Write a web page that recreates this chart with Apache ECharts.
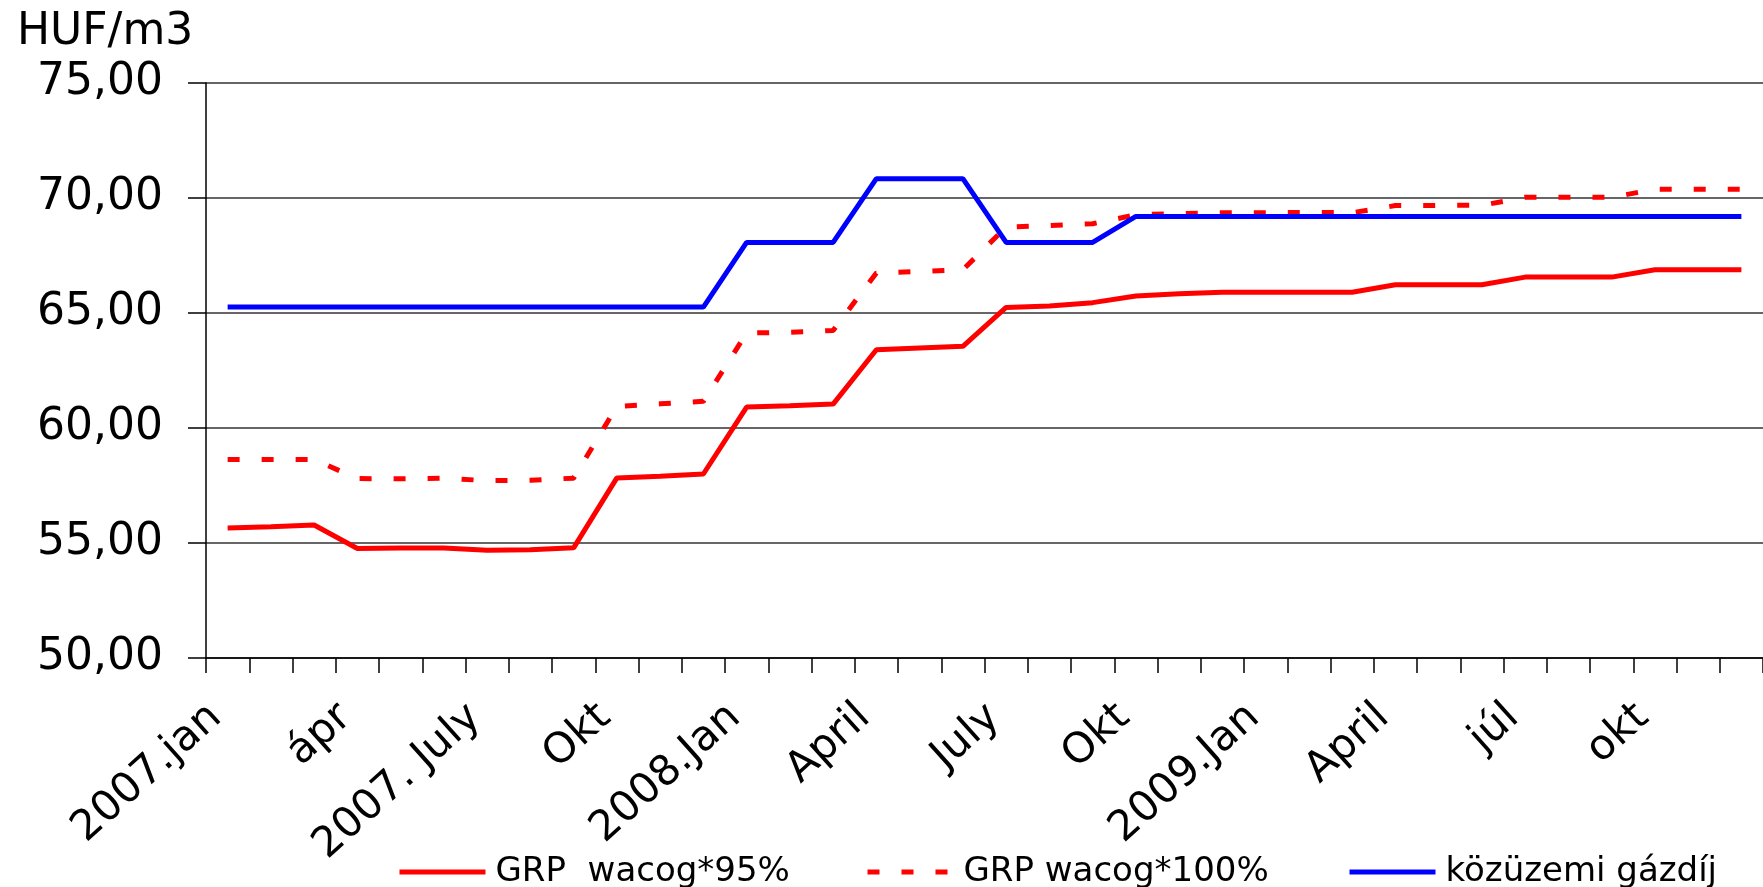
<!DOCTYPE html>
<html>
<head>
<meta charset="utf-8">
<script src="https://cdn.jsdelivr.net/npm/echarts@6/dist/echarts.min.js"></script>
<style>
html, body { margin: 0; padding: 0; background: #ffffff; }
#chart { width: 1763px; height: 887px; }
</style>
</head>
<body>
<div id="chart"></div>
<script>
// ---- data ----
const months = [
  '2007-01','2007-02','2007-03','2007-04','2007-05','2007-06','2007-07','2007-08','2007-09','2007-10','2007-11','2007-12',
  '2008-01','2008-02','2008-03','2008-04','2008-05','2008-06','2008-07','2008-08','2008-09','2008-10','2008-11','2008-12',
  '2009-01','2009-02','2009-03','2009-04','2009-05','2009-06','2009-07','2009-08','2009-09','2009-10','2009-11','2009-12'
];
const tickLabels = ['2007.jan','ápr','2007. July','Okt','2008.Jan','April','July','Okt','2009.Jan','April','júl','okt'];
const yTicks = [50, 55, 60, 65, 70, 75];
const seriesNames = ['GRP  wacog*95%', 'GRP wacog*100%', 'közüzemi gázdíj'];
const grp95 = [
  55.65, 55.71, 55.78, 54.76, 54.78, 54.78, 54.68, 54.71, 54.79, 57.83, 57.90, 58.00,
  60.91, 60.97, 61.04, 63.40, 63.48, 63.55, 65.24, 65.30, 65.45, 65.74, 65.84, 65.90,
  65.90, 65.90, 65.90, 66.23, 66.23, 66.23, 66.56, 66.56, 66.56, 66.88, 66.88, 66.88
];
const grp100 = [
  58.63, 58.63, 58.63, 57.80, 57.79, 57.82, 57.71, 57.73, 57.82, 60.94, 61.05, 61.16,
  64.13, 64.16, 64.24, 66.74, 66.81, 66.88, 68.74, 68.80, 68.88, 69.27, 69.32, 69.36,
  69.36, 69.37, 69.36, 69.67, 69.68, 69.68, 70.03, 70.03, 70.03, 70.38, 70.38, 70.38
];
const gazdij = [
  65.26, 65.26, 65.26, 65.26, 65.26, 65.26, 65.26, 65.26, 65.26, 65.26, 65.26, 65.26,
  68.07, 68.07, 68.07, 70.84, 70.84, 70.84, 68.07, 68.07, 68.07, 69.20, 69.20, 69.20,
  69.20, 69.20, 69.20, 69.20, 69.20, 69.20, 69.20, 69.20, 69.20, 69.20, 69.20, 69.20
];

const FONT = 'DejaVu Sans';
const chart = echarts.init(document.getElementById('chart'), null, { renderer: 'canvas' });

const legendBase = {
  orient: 'horizontal',
  top: 850,
  itemWidth: 86,
  itemHeight: 14,
  itemStyle: { opacity: 0 },
  lineStyle: { width: 5 },
  textStyle: { fontFamily: FONT, fontSize: 34, color: '#000', padding: [0, 0, 0, 5] },
  selectedMode: false
};

chart.setOption({
  backgroundColor: '#ffffff',
  animation: false,
  title: {
    text: 'HUF/m3',
    left: 12,
    top: 6,
    textStyle: { fontFamily: FONT, fontSize: 44, fontWeight: 'normal', color: '#000' }
  },
  legend: [
    Object.assign({}, legendBase, { left: 392, data: [seriesNames[0]] }),
    Object.assign({}, legendBase, { left: 860, data: [seriesNames[1]] }),
    Object.assign({}, legendBase, { left: 1342, data: [seriesNames[2]] })
  ],
  grid: { left: 206, right: -9, top: 83, bottom: 229, containLabel: false },
  xAxis: {
    type: 'category',
    data: months,
    boundaryGap: true,
    axisLine: { lineStyle: { color: '#000', width: 1.5 } },
    axisTick: { show: true, interval: 0, length: 15, lineStyle: { color: '#000', width: 1.5 } },
    axisLabel: {
      interval: 2,
      rotate: 42,
      margin: 43,
      padding: [0, 16, 0, 0],
      fontFamily: FONT,
      fontSize: 42,
      color: '#000',
      formatter: function (v, i) { return tickLabels[Math.floor(i / 3)]; }
    },
    splitLine: { show: false }
  },
  yAxis: {
    type: 'value',
    min: yTicks[0],
    max: yTicks[yTicks.length - 1],
    interval: 5,
    axisLine: { show: true, lineStyle: { color: '#000', width: 1.5 } },
    axisTick: { show: true, length: 18, lineStyle: { color: '#000', width: 1.5 } },
    axisLabel: {
      margin: 43,
      fontFamily: FONT,
      fontSize: 44,
      color: '#000',
      formatter: function (v) { return v.toFixed(2).replace('.', ','); }
    },
    splitLine: { show: true, lineStyle: { color: '#333', width: 1.5 } }
  },
  series: [
    {
      name: seriesNames[0], type: 'line', data: grp95, symbol: 'none',
      lineStyle: { color: '#ff0000', width: 5 }, itemStyle: { color: '#ff0000' }
    },
    {
      name: seriesNames[1], type: 'line', data: grp100, symbol: 'none',
      lineStyle: { color: '#ff0000', width: 5, type: [12, 22] }, itemStyle: { color: '#ff0000' }
    },
    {
      name: seriesNames[2], type: 'line', data: gazdij, symbol: 'none',
      lineStyle: { color: '#0000ff', width: 5 }, itemStyle: { color: '#0000ff' }
    }
  ]
});
</script>
</body>
</html>
